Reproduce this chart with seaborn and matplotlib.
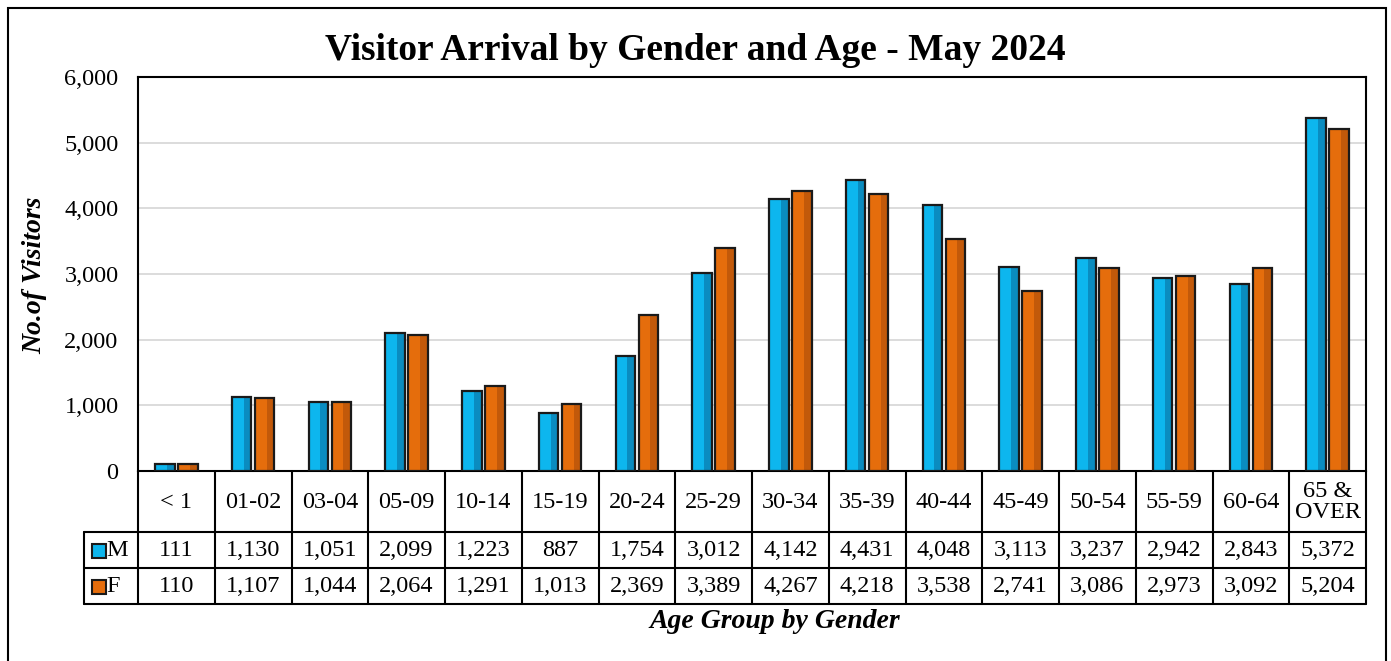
import seaborn as sns, matplotlib.pyplot as plt
import pandas as pd
from matplotlib.patches import Rectangle

age_groups = ['< 1', '01-02', '03-04', '05-09', '10-14', '15-19', '20-24', '25-29',
              '30-34', '35-39', '40-44', '45-49', '50-54', '55-59', '60-64', '65 &\nOVER']
male = [111, 1130, 1051, 2099, 1223, 887, 1754, 3012, 4142, 4431, 4048, 3113, 3237, 2942, 2843, 5372]
female = [110, 1107, 1044, 2064, 1291, 1013, 2369, 3389, 4267, 4218, 3538, 2741, 3086, 2973, 3092, 5204]
genders = ['M', 'F']
light = {'M': '#0DB6EE', 'F': '#E56D0C'}
dark = {'M': '#0A8CC0', 'F': '#C2590A'}

df = pd.DataFrame({'age': age_groups * 2,
                   'visitors': male + female,
                   'gender': ['M'] * len(male) + ['F'] * len(female)})

sns.set_style('white')
plt.rcParams['font.family'] = ['Liberation Serif', 'DejaVu Serif']
plt.rcParams['text.color'] = 'black'
plt.rcParams['ytick.color'] = 'black'

W, H = 1391, 661
fig = plt.figure(figsize=(W / 100, H / 100), dpi=100)

# main plot area
ax = fig.add_axes([138 / W, 1 - 471 / H, 1228 / W, 394 / H])
sns.barplot(data=df, x='age', y='visitors', hue='gender', order=age_groups, hue_order=genders,
            palette=light, saturation=1, width=0.6, gap=0.15, legend=False, ax=ax,
            linewidth=0, zorder=3)

# bevel look: darker right strip + outline
bars = list(ax.patches)
for k, p in enumerate(bars):
    g = genders[k // len(age_groups)]
    x0, w, h = p.get_x(), p.get_width(), p.get_height()
    ax.add_patch(Rectangle((x0 + w * 0.6, 0), w * 0.4, h, facecolor=dark[g], lw=0, zorder=4))
    ax.add_patch(Rectangle((x0, 0), w, h, fill=False, edgecolor='#1a1a1a', lw=1.6, zorder=5))

ax.set_xlim(-0.5, len(age_groups) - 0.5)
ax.set_ylim(0, 6000)
ax.set_yticks(range(0, 6001, 1000))
ax.set_yticklabels([f'{v:,}' for v in range(0, 6001, 1000)], fontsize=17.5)
ax.tick_params(axis='y', length=0, pad=14, labelcolor='black')
ax.set_xticks([])
ax.set_xlabel('')
ax.set_ylabel('')
ax.yaxis.grid(True, color='#D9D9D9', lw=1.3, zorder=0)
ax.set_axisbelow(True)
for s in ax.spines.values():
    s.set_visible(True)
    s.set_color('black')
    s.set_linewidth(1.5)

# data table below the plot
hdr = (138 - 84) / 76.75
tb = fig.add_axes([84 / W, 1 - 604 / H, 1282 / W, 133 / H])
tb.set_xlim(-0.5 - hdr, len(age_groups) - 0.5)
tb.set_ylim(133, 0)
tb.axis('off')
lc = dict(color='black', lw=1.5, clip_on=False)
n = len(age_groups)
for i in range(n + 1):
    tb.plot([i - 0.5, i - 0.5], [0, 133], **lc)
tb.plot([-0.5 - hdr, -0.5 - hdr], [61, 133], **lc)
for yy in [61, 97, 133]:
    tb.plot([-0.5 - hdr, n - 0.5], [yy, yy], **lc)

fs = 17.5
for i, lab in enumerate(age_groups):
    tb.text(i, 31, lab, ha='center', va='center', fontsize=fs, linespacing=0.95)
    tb.text(i, 79.5, f'{male[i]:,}', ha='center', va='center', fontsize=fs)
    tb.text(i, 115.5, f'{female[i]:,}', ha='center', va='center', fontsize=fs)

for g, yy in zip(genders, [79.5, 115.5]):
    tb.plot([-0.5 - hdr + 15 / 76.75], [yy], marker='s', ms=10.5, mfc=light[g],
            mec='#1a1a1a', mew=1.5, clip_on=False)
    tb.text(-0.5 - hdr + 22 / 76.75, yy, g, ha='left', va='center', fontsize=fs)

fig.text(0.5, 1 - 50 / H, 'Visitor Arrival by Gender and Age - May 2024',
         ha='center', va='center', fontsize=27, fontweight='bold')
fig.text(775 / W, 1 - 621 / H, 'Age Group by Gender', ha='center', va='center',
         fontsize=20, fontweight='bold', fontstyle='italic')
fig.text(35 / W, 1 - 275 / H, 'No.of Visitors', ha='center', va='center', rotation=90,
         fontsize=20, fontweight='bold', fontstyle='italic')

fig.add_artist(Rectangle((8 / W, -0.02), 1378 / W, 1.02 - 8 / H, transform=fig.transFigure,
                         fill=False, edgecolor='black', lw=1.5))

fig.savefig('out.png', dpi=100)
